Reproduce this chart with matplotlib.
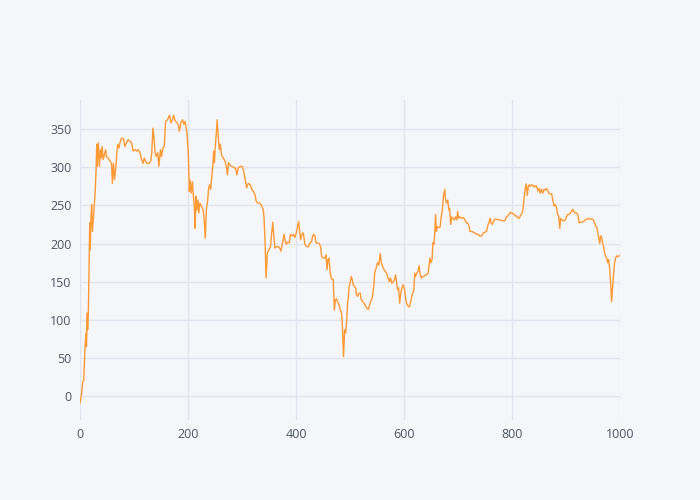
import matplotlib
matplotlib.use("Agg")
import matplotlib.pyplot as plt

# values (x position, y value)
xs = [0, 3, 5, 7, 9, 11, 12, 13.5, 14, 15.5, 16.5, 18, 19, 20, 21.5, 23, 25, 28, 30, 31, 32, 34, 36, 38, 39.5,
      41, 43, 45, 47.5, 49, 52, 55.5, 58.5, 60, 62, 64, 66, 68.5, 70, 72, 74, 76, 79, 81, 83, 86, 89, 92.5,
      95.5, 98.5, 102, 105, 108, 111, 114, 117, 119, 121.5, 124, 128, 131, 133, 135, 137, 139, 141, 144,
      146, 149, 151, 153.5, 156, 158.5, 162, 165,
      166, 168.5, 171, 173.5, 176, 180, 182, 184, 187, 190, 192.5, 194.5, 196, 198, 200.5, 202.5, 204, 206,
      208, 210, 212, 213, 215, 216.5, 218.5, 220, 222, 225, 228, 230, 232, 234, 236.5, 238, 240, 242, 244,
      246, 247.5, 249, 250.5, 252.5, 254, 256, 258, 260, 262, 265.5, 268.5, 271, 273, 275, 278.5, 282, 286,
      288, 290.5, 293, 297, 300.5, 303, 305.5, 308.5, 312, 315.5, 318, 321.5, 324, 326.5, 330, 333, 336,
      339.5, 341, 343, 344.5, 347, 350, 353, 355, 357, 358.5, 361, 364, 367, 370, 372, 374.5, 378, 380, 382,
      384.5, 387.5, 390, 393, 395.5, 398, 400.5, 403, 405, 407, 408.5, 411, 413.5, 416.5, 419.5, 423, 426,
      429, 431, 433, 435, 437, 440, 443, 445.5, 447.5, 450.5, 453.5, 455.5, 457.5, 459, 461, 463, 465, 467,
      469, 471, 473, 475, 477, 479.5, 482, 484.5, 486, 488, 490, 492, 494, 495.5, 497, 498.5, 500.5, 502.5,
      504, 506, 508, 510.5, 512, 514, 516.5, 519, 521, 523.5, 526, 529, 531.5, 534, 536.5, 539, 541, 544,
      546, 548.5, 551, 553.5, 556, 558, 560.5, 563, 565, 568, 570.5, 573, 575, 577.5, 580, 582.5, 584.5,
      586.5, 588, 590, 592, 594, 596, 598.5, 601, 603, 605.5, 608, 610, 613, 615, 618, 620, 621.5, 623.5,
      626, 628, 629.5, 632, 634.5, 637, 639.5, 642, 644.5, 646, 648, 650, 652, 653.5, 655.5, 657, 658.5, 660,
      662, 665, 667, 668.5, 671, 673, 675.5, 677, 679, 681, 683, 684.5, 686.5, 688.5, 690.5, 693, 695.5,
      697.5, 699.5, 701, 703.5, 707, 710, 713, 715.5, 718, 720.5, 722, 725, 728, 731, 734.5, 737.5, 740.5,
      744, 747, 750, 753, 755, 758, 759.5, 761, 763.5, 766, 768.5, 771.5, 774.5, 777.5, 781, 784, 787, 789.5,
      792, 794.5, 797, 799.5, 802, 804.5, 806.5, 809, 811.5, 814, 816.5, 819, 821, 823, 824.5, 826.5, 828.3,
      830, 832, 834, 836.5, 839, 841.5, 844.5, 846.5, 848, 850, 852, 854.5, 857, 859.5, 862, 863.5, 866, 868,
      870.5, 873.5, 875.5, 878, 880.5, 882.5, 884.5, 886.5, 888.5, 890, 892.5, 895, 897.5, 900, 902.5, 905,
      907, 910, 912.5, 915, 917.5, 920, 922, 924.5, 927, 929.5, 932, 934.5, 937, 939.5, 942, 944.5, 947,
      949.5, 952, 954.5, 957, 958.5, 960.5, 962.5, 964, 966, 968, 969.5, 971.5, 973.5, 975.5, 977, 979, 981,
      982.5, 984.5, 986.5, 988, 990, 992, 994, 996, 999]

ys = [-9, 4, 19, 21, 61, 83, 65, 109, 87, 111, 157, 227, 192, 227, 251, 216, 236, 266, 301, 330, 301, 332,
      301, 323, 312, 327, 310, 316, 323, 314, 312, 308, 305, 279, 305, 284, 297, 321, 330, 325, 332, 337,
      338, 336, 327, 332, 336, 334, 332, 321, 323, 321, 323, 319, 310, 305, 312, 308, 305, 305, 308, 319,
      351, 340, 319, 314, 319, 301, 323, 314, 325, 327, 360, 362, 367,
      368, 358, 362, 368, 361, 358, 356, 347, 359, 362, 356, 360, 354, 345, 319, 268, 283, 266, 281, 262,
      244, 220, 262, 244, 257, 240, 253, 249, 244, 231, 207, 244, 257, 271, 277, 271, 288, 301, 321, 306,
      327, 345, 362, 340, 323, 330, 316, 312, 308, 301, 290, 306, 302, 301, 299, 299, 290, 299, 301, 301,
      295, 286, 273, 279, 277, 271, 268, 264, 255, 253, 253, 250, 244, 231, 196, 155, 188, 192, 196, 214,
      228, 214, 194, 196, 196, 194, 190, 199, 212, 203, 199, 202, 201, 212, 210, 212, 208, 214, 222, 229,
      216, 205, 212, 214, 199, 196, 196, 201, 203, 210, 212, 210, 201, 201, 200, 196, 183, 181, 181, 185,
      166, 179, 181, 164, 155, 153, 153, 113, 126, 128, 124, 120, 113, 109, 91, 52, 87, 83, 100, 122, 130,
      144, 150, 157, 153, 146, 144, 142, 133, 131, 135, 135, 126, 124, 122, 118, 115, 114, 120, 126, 128,
      144, 163, 168, 175, 172, 187, 175, 170, 166, 164, 161, 155, 150, 155, 148, 150, 153, 159, 148, 140,
      142, 122, 135, 142, 146, 140, 128, 120, 118, 117, 126, 133, 138, 161, 157, 161, 164, 171, 161, 155,
      157, 157, 159, 159, 161, 168, 181, 175, 179, 201, 199, 214, 238, 216, 222, 221, 222, 233, 244, 262,
      271, 257, 253, 257, 244, 246, 225, 235, 233, 231, 235, 231, 242, 233, 235, 233, 234, 231, 227, 227,
      223, 216, 216, 215, 214, 212, 212, 210, 210, 214, 215, 216, 223, 229, 233, 227, 225, 230, 232, 232,
      231, 231, 230, 230, 230, 235, 236, 238, 241, 240, 239, 238, 236, 236, 233, 234, 238, 240, 249, 262,
      273, 278, 263, 274, 277, 275, 277, 276, 274, 276, 273, 269, 272, 266, 271, 266, 271, 270, 272, 270,
      266, 265, 265, 257, 249, 251, 247, 238, 236, 220, 233, 231, 230, 230, 233, 238, 238, 239, 242, 245,
      241, 240, 240, 238, 227, 228, 228, 229, 230, 232, 232, 233, 232, 232, 232, 229, 223, 222, 216, 208,
      200, 210, 208, 200, 196, 188, 183, 181, 175, 179, 166, 150, 124, 144, 159, 175, 181, 184, 183, 184]

xticks = [0, 200, 400, 600, 800, 1000]
yticks = [0, 50, 100, 150, 200, 250, 300, 350]

bg = '#F5F6F9'
grid = '#E1E5ED'
text = '#4D5663'

plt.rcParams['font.family'] = ['Open Sans', 'DejaVu Sans']

fig = plt.figure(figsize=(7, 5), dpi=100, facecolor=bg)
ax = fig.add_axes([80 / 700, 80 / 500, 540 / 700, 320 / 500], facecolor=bg)

ax.plot(xs, ys, color='#FF9933', lw=1.0, zorder=3)

ax.set_xlim(0, 1000)
ax.set_ylim(-31, 388)
ax.set_xticks(xticks)
ax.set_yticks(yticks)
ax.grid(True, color=grid, lw=1)
ax.set_axisbelow(True)
for s in ax.spines.values():
    s.set_visible(False)
ax.tick_params(length=0, labelsize=9, colors=text, pad=6)

fig.savefig('out.png', dpi=100, facecolor=bg)
